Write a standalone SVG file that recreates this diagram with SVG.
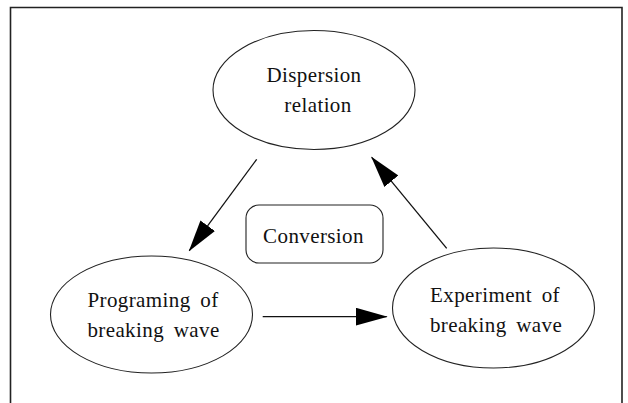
<svg xmlns="http://www.w3.org/2000/svg" width="628" height="403" viewBox="0 0 628 403">
<style>
.node{fill:#fff;stroke:#222;stroke-width:1.1}
.lbl{font-family:"Liberation Serif",serif;font-size:21px;fill:#111;text-anchor:middle;letter-spacing:0.4px;word-spacing:4px}
.conn{stroke:#111;stroke-width:1.3;fill:none}
.frame{stroke:#222;stroke-width:1.6;fill:none}
</style>
<defs>
<marker id="arr" markerUnits="userSpaceOnUse" viewBox="0 0 32 18" refX="31" refY="9" markerWidth="32" markerHeight="18" orient="auto">
<path d="M0,0 L32,9 L0,18 z" fill="#000"/>
</marker>
</defs>
<rect width="628" height="403" fill="#fff"/>
<path class="frame" d="M10.5,403 L10.5,7.5 L622,7.5 L622,403"/>
<g id="dispersion">
<ellipse class="node" cx="314" cy="90" rx="101" ry="59.5"/>
<text class="lbl" x="314" y="82">Dispersion</text>
<text class="lbl" x="318" y="112">relation</text>
</g>
<g id="programing">
<ellipse class="node" cx="151.5" cy="314.5" rx="101" ry="58.5"/>
<text class="lbl" x="153" y="307">Programing of</text>
<text class="lbl" x="153.5" y="337">breaking wave</text>
</g>
<g id="experiment">
<ellipse class="node" cx="493.5" cy="308" rx="101" ry="60"/>
<text class="lbl" x="495" y="302">Experiment of</text>
<text class="lbl" x="496" y="332">breaking wave</text>
</g>
<g id="conversion">
<rect class="node" x="246" y="205" width="137" height="58" rx="13" ry="13"/>
<text class="lbl" x="313.5" y="243">Conversion</text>
</g>
<g id="connectors">
<line class="conn" x1="256.7" y1="159.3" x2="189.3" y2="250.7" marker-end="url(#arr)"/>
<line class="conn" x1="446.7" y1="248.3" x2="371.7" y2="157.3" marker-end="url(#arr)"/>
<line class="conn" x1="262.7" y1="316.7" x2="386.7" y2="316.7" marker-end="url(#arr)"/>
</g>
</svg>
